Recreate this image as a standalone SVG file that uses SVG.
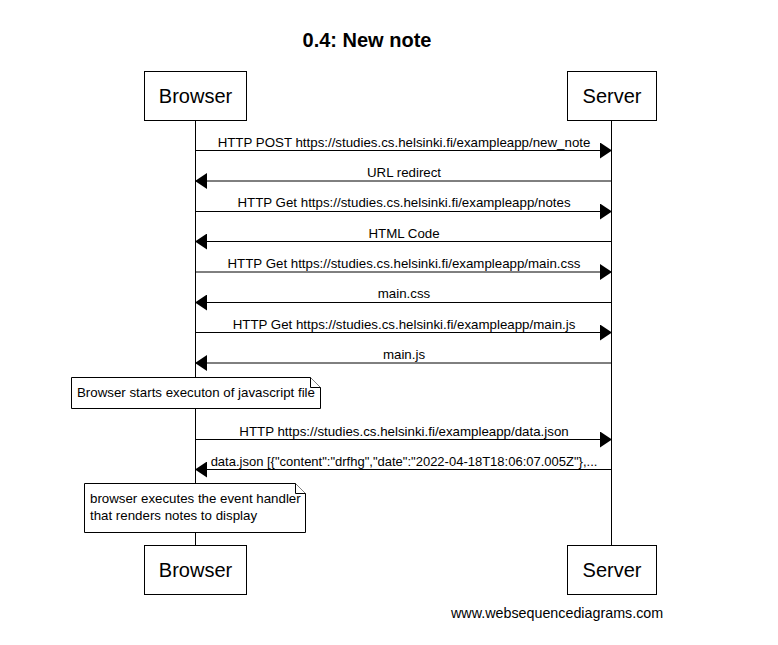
<svg xmlns="http://www.w3.org/2000/svg" width="778" height="645" viewBox="0 0 778 645">
  <style>
    text { font-family: "Liberation Sans", Arial, sans-serif; fill: #000; }
    .title { font-size: 20px; font-weight: bold; text-anchor: middle; }
    .actor rect { fill: #fff; stroke: #000; stroke-width: 1; }
    .actor text { font-size: 20px; text-anchor: middle; }
    .life { stroke: #000; stroke-width: 1; }
    .msg line { stroke: #000; stroke-width: 1; }
    .msg text { font-size: 13.3px; text-anchor: middle; }
    .msg text.long { font-size: 13px; }
    .note path { fill: #fff; stroke: #000; stroke-width: 1; }
    .note text { font-size: 13.3px; }
    .footer { font-size: 14.3px; }
  </style>
  <defs>
    <marker id="head" viewBox="0 0 12 16" refX="12" refY="8" markerWidth="12" markerHeight="16" markerUnits="userSpaceOnUse" orient="auto">
      <path d="M0,0 L12,8 L0,16 Z" fill="#000"/>
    </marker>
  </defs>

  <rect width="778" height="645" fill="#fff"/>

  <text class="title" x="367" y="47">0.4: New note</text>

  <!-- lifelines -->
  <g id="lifelines">
    <line class="life" x1="195.5" y1="120" x2="195.5" y2="545"/>
    <line class="life" x1="611.5" y1="120" x2="611.5" y2="545"/>
  </g>

  <!-- participants -->
  <g id="browser-top" class="actor">
    <rect x="144.5" y="71.5" width="102" height="49"/>
    <text x="195.5" y="103">Browser</text>
  </g>
  <g id="server-top" class="actor">
    <rect x="567.5" y="71.5" width="89" height="49"/>
    <text x="612" y="103">Server</text>
  </g>
  <g id="browser-bottom" class="actor">
    <rect x="144.5" y="545.5" width="102" height="49"/>
    <text x="195.5" y="577">Browser</text>
  </g>
  <g id="server-bottom" class="actor">
    <rect x="567.5" y="545.5" width="89" height="49"/>
    <text x="612" y="577">Server</text>
  </g>

  <!-- messages -->
  <g id="connectors" class="msg">
    <line x1="196" y1="150.5" x2="612" y2="150.5" marker-end="url(#head)"/>
    <text x="404" y="147">HTTP POST https://studies.cs.helsinki.fi/exampleapp/new_note</text>

    <line x1="611" y1="181" x2="195" y2="181" marker-end="url(#head)"/>
    <text x="404" y="177">URL redirect</text>

    <line x1="196" y1="211.5" x2="612" y2="211.5" marker-end="url(#head)"/>
    <text x="404" y="207">HTTP Get https://studies.cs.helsinki.fi/exampleapp/notes</text>

    <line x1="611" y1="241.5" x2="195" y2="241.5" marker-end="url(#head)"/>
    <text x="404" y="238">HTML Code</text>

    <line x1="196" y1="272" x2="612" y2="272" marker-end="url(#head)"/>
    <text x="404" y="268">HTTP Get https://studies.cs.helsinki.fi/exampleapp/main.css</text>

    <line x1="611" y1="302.5" x2="195" y2="302.5" marker-end="url(#head)"/>
    <text x="404" y="298">main.css</text>

    <line x1="196" y1="332.5" x2="612" y2="332.5" marker-end="url(#head)"/>
    <text x="404" y="329">HTTP Get https://studies.cs.helsinki.fi/exampleapp/main.js</text>

    <line x1="611" y1="363" x2="195" y2="363" marker-end="url(#head)"/>
    <text x="404" y="359">main.js</text>

    <line x1="196" y1="439.5" x2="612" y2="439.5" marker-end="url(#head)"/>
    <text x="404" y="436">HTTP https://studies.cs.helsinki.fi/exampleapp/data.json</text>

    <line x1="611" y1="469.5" x2="195" y2="469.5" marker-end="url(#head)"/>
    <text class="long" x="404" y="466">data.json [{"content":"drfhg","date":"2022-04-18T18:06:07.005Z"},...</text>
  </g>

  <!-- notes -->
  <g id="note-js" class="note">
    <path d="M71.5,377.5 H310.5 L320.5,387.5 V408.5 H71.5 Z"/>
    <path d="M310.5,377.5 V387.5 H320.5" fill="none"/>
    <text x="77" y="397">Browser starts executon of javascript file</text>
  </g>
  <g id="note-render" class="note">
    <path d="M84.5,483.5 H295.5 L305.5,493.5 V532.5 H84.5 Z"/>
    <path d="M295.5,483.5 V493.5 H305.5" fill="none"/>
    <text x="90" y="503">browser executes the event handler</text>
    <text x="90" y="520">that renders notes to display</text>
  </g>

  <text class="footer" x="451" y="618">www.websequencediagrams.com</text>
</svg>
